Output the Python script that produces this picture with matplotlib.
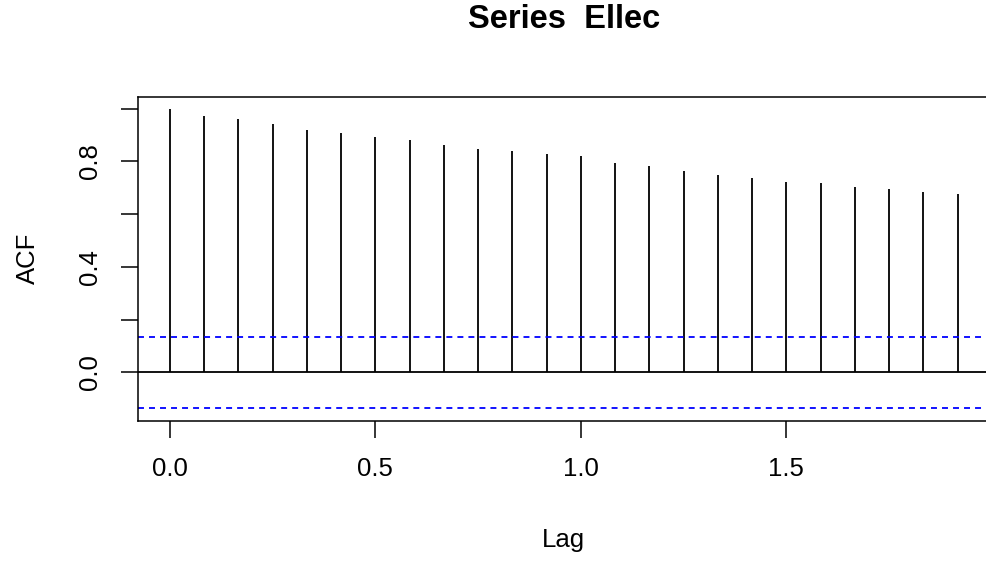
import numpy as np
import matplotlib
matplotlib.use("Agg")
import matplotlib.pyplot as plt

# ACF values (lags in years, monthly series)
lags = np.arange(24) / 12
acf = [1.000, 0.973, 0.960, 0.941, 0.920, 0.907, 0.894, 0.880,
       0.861, 0.847, 0.841, 0.827, 0.822, 0.795, 0.782, 0.763,
       0.750, 0.736, 0.722, 0.717, 0.702, 0.697, 0.683, 0.677]
ci = 0.1345

xticks = [0.0, 0.5, 1.0, 1.5]
xticklabels = ["0.0", "0.5", "1.0", "1.5"]
yticks = [0.0, 0.2, 0.4, 0.6, 0.8, 1.0]
yticklabels = ["0.0", "", "0.4", "", "0.8", ""]

plt.rcParams["font.family"] = ["Liberation Sans", "DejaVu Sans"]

fig = plt.figure(figsize=(9.86, 5.61), dpi=100)
fig.patch.set_facecolor("white")
ax = fig.add_axes([0.1403, 0.2503, 0.8628, 0.5772])

ax.vlines(lags, 0, acf, color="black", linewidth=1.3)
ax.axhline(0, color="black", linewidth=1.3)
for y in (ci, -ci):
    ax.axhline(y, color="#0000ff", linewidth=1.3, linestyle=(0, (3.3, 2.8)))

ax.set_xlim(-0.0767, 1.9933)
ax.set_ylim(-0.1835, 1.0455)

ax.set_xticks(xticks)
ax.set_xticklabels(xticklabels)
ax.set_yticks(yticks)
ax.set_yticklabels(yticklabels, rotation=90, va="center")

ax.tick_params(axis="both", direction="out", length=12, width=1.1,
               labelsize=18.5, colors="black")
ax.tick_params(axis="x", pad=14)
ax.tick_params(axis="y", pad=14.5)

for spine in ax.spines.values():
    spine.set_linewidth(1.1)

fig.text(0.572, 1 - 20 / 561, "Series  Ellec", ha="center", va="center",
         fontsize=23.5, fontweight="bold")
fig.text(0.571, 1 - 540 / 561, "Lag", ha="center", va="center", fontsize=18.5)
fig.text(28 / 986, 1 - 258 / 561, "ACF", ha="center", va="center",
         rotation=90, fontsize=18.5)

fig.savefig("out.png", dpi=100, facecolor="white")
